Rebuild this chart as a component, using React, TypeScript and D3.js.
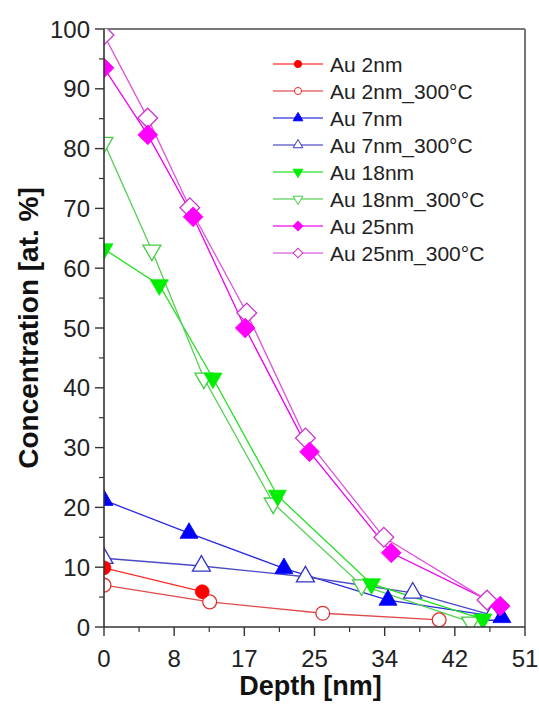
import React from "react";
import * as d3 from "d3";

const W = 539;
const H = 704;
const M = { left: 104, right: 14, top: 29, bottom: 77 };

const xTicks = [0, 8.5, 17, 25.5, 34, 42.5, 51];
const xTickLabels = ["0", "8", "17", "25", "34", "42", "51"];
const yTicks = [0, 10, 20, 30, 40, 50, 60, 70, 80, 90, 100];

const seriesNames = [
  "Au 2nm",
  "Au 2nm_300°C",
  "Au 7nm",
  "Au 7nm_300°C",
  "Au 18nm",
  "Au 18nm_300°C",
  "Au 25nm",
  "Au 25nm_300°C",
];

const au2: [number, number][] = [[0, 9.9], [11.9, 5.9]];
const au2h: [number, number][] = [[0, 7.0], [12.8, 4.2], [26.5, 2.3], [40.6, 1.2]];
const au7: [number, number][] = [[0, 21.2], [10.3, 15.7], [21.8, 9.8], [34.4, 4.5], [48.2, 1.6]];
const au7h: [number, number][] = [[0, 11.5], [11.8, 10.2], [24.4, 8.4], [37.4, 5.7], [47, 2.0]];
const au18: [number, number][] = [[0, 63.2], [6.7, 57.2], [13.2, 41.6], [21, 22], [32.4, 7.2], [45.9, 1.3]];
const au18h: [number, number][] = [[0, 81], [5.8, 63], [12.1, 41.6], [20.5, 20.7], [31.2, 7.0], [44.4, 0.8]];
const au25: [number, number][] = [[0, 93.5], [5.3, 82.3], [10.8, 68.6], [17.1, 50], [24.9, 29.3], [34.8, 12.4], [48, 3.5]];
const au25h: [number, number][] = [[0, 99], [5.3, 85.1], [10.4, 70.1], [17.3, 52.5], [24.4, 31.6], [33.9, 15], [46.4, 4.5]];

const seriesData = [au2, au2h, au7, au7h, au18, au18h, au25, au25h];
const lineColors = ["#ff2a2a", "#e04a4a", "#2a2ae0", "#4a4ac8", "#22e022", "#55d055", "#ee00ee", "#dd55dd"];
const markerColors = ["#ff0000", "#e03030", "#0000ff", "#3333cc", "#00ee00", "#44cc44", "#ff00ff", "#cc33cc"];
const filled = [true, false, true, false, true, false, true, false];
const shapes = ["circle", "circle", "up", "up", "down", "down", "diamond", "diamond"];

function symbolPath(shape: string, size: number) {
  if (shape === "circle") return d3.symbol(d3.symbolCircle, size)() as string;
  if (shape === "diamond") return d3.symbol(d3.symbolSquare, size)() as string;
  return d3.symbol(d3.symbolTriangle, size)() as string;
}
function symbolRot(shape: string) {
  if (shape === "down") return 180;
  if (shape === "diamond") return 45;
  return 0;
}
const plotSizes: Record<string, number> = { circle: 150, up: 140, down: 140, diamond: 195 };
const legendSizes: Record<string, number> = { circle: 40, up: 40, down: 40, diamond: 45 };

export default function App() {
  const x = d3.scaleLinear().domain([0, 51]).range([M.left, W - M.right]);
  const y = d3.scaleLinear().domain([0, 100]).range([H - M.bottom, M.top]);
  const line = d3.line<[number, number]>().x((d) => x(d[0])).y((d) => y(d[1]));
  const x0 = x(0), x1 = x(51), y0 = y(0), y1 = y(100);
  const xMinor = d3.range(0, 51.01, 4.25).filter((v) => !xTicks.some((t) => Math.abs(t - v) < 1e-6));
  const yMinor = d3.range(5, 100, 10);
  const axisColor = "#333";
  const font = "Liberation Sans, Arial, sans-serif";
  const order = [1, 3, 5, 7, 0, 2, 4, 6];

  return (
    <svg width={W} height={H} style={{ position: "absolute", left: 0, top: 0, background: "#fff" }} fontFamily={font}>
      <defs>
        <clipPath id="plotclip">
          <rect x={x0} y={y1} width={x1 - x0} height={y0 - y1} />
        </clipPath>
      </defs>
      {/* frame */}
      <line x1={x0} y1={y1} x2={x1} y2={y1} stroke="#777" strokeWidth={2} />
      <line x1={x1} y1={y1} x2={x1} y2={y0} stroke="#777" strokeWidth={2} />
      <g clipPath="url(#plotclip)">
        {seriesData.map((d, i) => (
          <path key={"l" + i} d={line(d) as string} fill="none" stroke={lineColors[i]} strokeWidth={1.3} />
        ))}
        {order.map((i) =>
          seriesData[i].map((p, j) => (
            <path
              key={"m" + i + "-" + j}
              d={symbolPath(shapes[i], plotSizes[shapes[i]])}
              transform={`translate(${x(p[0])},${y(p[1])}) rotate(${symbolRot(shapes[i])})`}
              fill={filled[i] ? markerColors[i] : "#fff"}
              stroke={markerColors[i]}
              strokeWidth={filled[i] ? 0.8 : 1.3}
            />
          ))
        )}
      </g>
      {/* axes */}
      <line x1={x0} y1={y0} x2={x0} y2={y1} stroke={axisColor} strokeWidth={1.6} />
      <line x1={x0} y1={y0} x2={x1} y2={y0} stroke={axisColor} strokeWidth={1.6} />
      {yTicks.map((t) => (
        <g key={"yt" + t}>
          <line x1={x0 - 9} x2={x0} y1={y(t)} y2={y(t)} stroke={axisColor} strokeWidth={1.4} />
          <text x={x0 - 14} y={y(t)} dy="0.36em" textAnchor="end" fontSize={24} fill="#222">
            {t}
          </text>
        </g>
      ))}
      {yMinor.map((t) => (
        <line key={"ym" + t} x1={x0 - 5} x2={x0} y1={y(t)} y2={y(t)} stroke={axisColor} strokeWidth={1.2} />
      ))}
      {xTicks.map((t, i) => (
        <g key={"xt" + i}>
          <line x1={x(t)} x2={x(t)} y1={y0} y2={y0 + 9} stroke={axisColor} strokeWidth={1.4} />
          <text x={x(t)} y={y0 + 40} textAnchor="middle" fontSize={24} fill="#222">
            {xTickLabels[i]}
          </text>
        </g>
      ))}
      {xMinor.map((t, i) => (
        <line key={"xm" + i} x1={x(t)} x2={x(t)} y1={y0} y2={y0 + 5} stroke={axisColor} strokeWidth={1.2} />
      ))}
      {/* axis titles */}
      <text x={(x0 + x1) / 2 - 4} y={H - 9} textAnchor="middle" fontSize={27} fontWeight="bold" fill="#111">
        Depth [nm]
      </text>
      <text
        transform={`translate(38,${(y0 + y1) / 2}) rotate(-90)`}
        textAnchor="middle"
        fontSize={28}
        fontWeight="bold"
        fill="#111"
      >
        Concentration [at. %]
      </text>
      {/* legend */}
      {seriesNames.map((name, i) => {
        const ly = 64 + i * 27;
        return (
          <g key={"lg" + i}>
            <line x1={273} x2={323} y1={ly} y2={ly} stroke={lineColors[i]} strokeWidth={1.3} opacity={0.8} />
            <path
              d={symbolPath(shapes[i], legendSizes[shapes[i]])}
              transform={`translate(298,${ly}) rotate(${symbolRot(shapes[i])})`}
              fill={filled[i] ? markerColors[i] : "#fff"}
              stroke={markerColors[i]}
              strokeWidth={1}
            />
            <text x={330} y={ly} dy="0.36em" fontSize={21} fill="#222">
              {name}
            </text>
          </g>
        );
      })}
    </svg>
  );
}
